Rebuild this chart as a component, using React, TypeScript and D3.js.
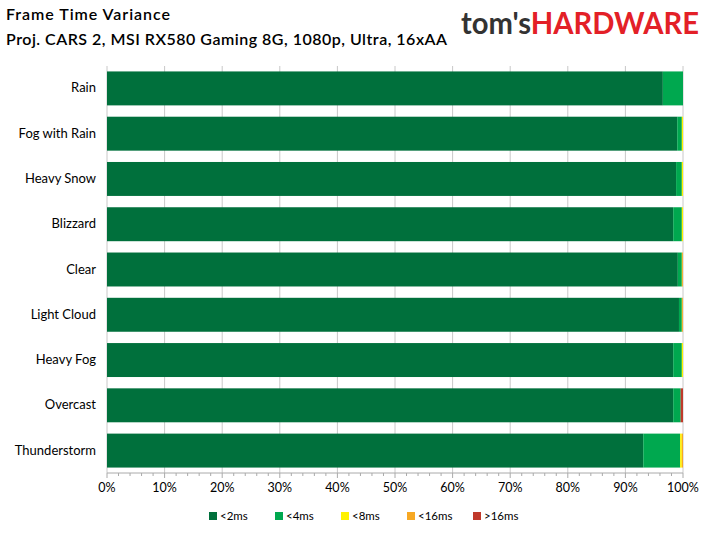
import React from 'react';
import * as d3 from 'd3';

const categories = ['Rain', 'Fog with Rain', 'Heavy Snow', 'Blizzard', 'Clear', 'Light Cloud', 'Heavy Fog', 'Overcast', 'Thunderstorm'];
const seriesNames = ['<2ms', '<4ms', '<8ms', '<16ms', '>16ms'];
const colors = ['#00703C', '#00A84F', '#FFF200', '#F7A823', '#C0392B'];
const lt2 = [96.5, 99.0, 98.8, 98.3, 99.1, 99.3, 98.3, 98.3, 93.1];
const lt4 = [3.5, 0.8, 1.0, 1.5, 0.7, 0.5, 1.5, 1.3, 6.4];
const lt8 = [0, 0.2, 0.2, 0.2, 0.05, 0.05, 0.2, 0, 0.3];
const lt16 = [0, 0, 0, 0, 0.15, 0.15, 0, 0, 0.2];
const gt16 = [0, 0, 0, 0, 0, 0, 0, 0.4, 0];
const xTicks = d3.range(0, 101, 10);

const W = 711, H = 533;
const left = 107, right = 683, top = 66, bottom = 473;
const font = 'Lato, "Open Sans", sans-serif';

export default function App() {
  const x = d3.scaleLinear().domain([0, 100]).range([left, right]);
  const y = d3.scaleBand().domain(categories).range([top, bottom]).paddingInner(0.25).paddingOuter(0.12);
  const rows = categories.map((c, i) => ({ c, vals: [lt2[i], lt4[i], lt8[i], lt16[i], gt16[i]] }));
  const minor = d3.range(0, 100.1, 2);
  return (
    <svg width={W} height={H} style={{ position: 'absolute', left: 0, top: 0, background: '#fff' }}>
      <text x={6} y={20} fontFamily={font} fontSize={16} fontWeight={600} fill="#000" textLength={164}>Frame Time Variance</text>
      <text x={6} y={45} fontFamily={font} fontSize={16} fontWeight={600} fill="#000" textLength={441}>Proj. CARS 2, MSI RX580 Gaming 8G, 1080p, Ultra, 16xAA</text>
      <text x={461} y={34} fontFamily={font} fontSize={30} fontWeight={700} textLength={238} lengthAdjust="spacingAndGlyphs">
        <tspan fill="#333">tom's</tspan><tspan fill="#E32027">HARDWARE</tspan>
      </text>
      {xTicks.map(t => (
        <line key={t} x1={x(t)} x2={x(t)} y1={top} y2={bottom} stroke="#c8c8c8" />
      ))}
      {rows.map(r => {
        let acc = 0;
        return (
          <g key={r.c}>
            {r.vals.map((v, k) => {
              const x0 = acc; acc += v;
              return v > 0 ? <rect key={k} x={x(x0)} y={y(r.c)} width={x(x0 + v) - x(x0)} height={y.bandwidth()} fill={colors[k]} /> : null;
            })}
            <text x={left - 11} y={(y(r.c) as number) + y.bandwidth() / 2 + 4} textAnchor="end" fontFamily={font} fontSize={13}>{r.c}</text>
          </g>
        );
      })}
      <line x1={left} x2={right} y1={bottom} y2={bottom} stroke="#aaa" />
      {minor.map(t => (
        <line key={t} x1={x(t)} x2={x(t)} y1={bottom} y2={bottom + (t % 10 === 0 ? 5 : 3)} stroke="#aaa" />
      ))}
      {xTicks.map(t => (
        <text key={t} x={x(t)} y={bottom + 19} textAnchor="middle" fontFamily={font} fontSize={12.5}>{t}%</text>
      ))}
      {seriesNames.map((s, i) => {
        const lx = 209 + i * 66;
        return (
          <g key={s}>
            <rect x={lx} y={512} width={8} height={8} fill={colors[i]} />
            <text x={lx + 11} y={520} fontFamily={font} fontSize={11.5}>{s}</text>
          </g>
        );
      })}
    </svg>
  );
}
